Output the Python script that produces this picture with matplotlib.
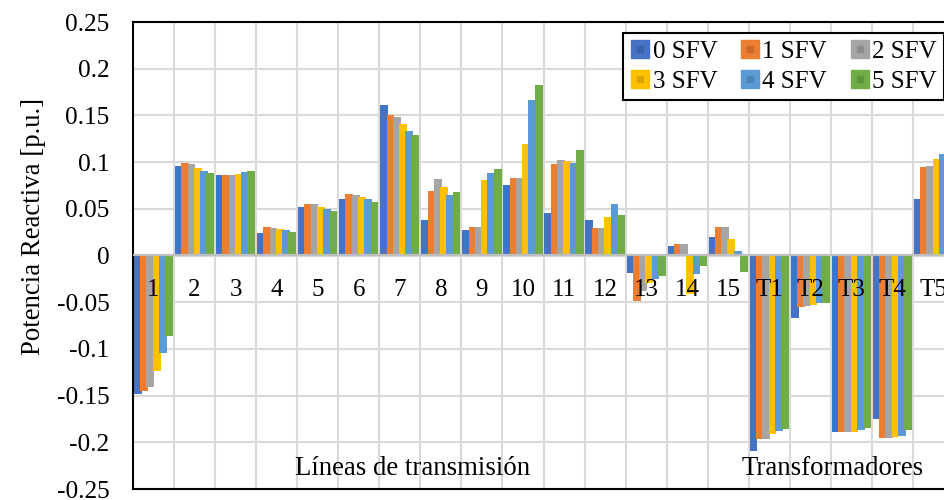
import numpy as np
import matplotlib
matplotlib.use("Agg")
import matplotlib.pyplot as plt
from matplotlib.lines import Line2D
from matplotlib.legend_handler import HandlerTuple

plt.rcParams['font.family'] = ['Liberation Serif', 'DejaVu Serif']

# datos
categorias = ['1', '2', '3', '4', '5', '6', '7', '8', '9', '10', '11', '12', '13', '14', '15',
              'T1', 'T2', 'T3', 'T4', 'T5']
series = ['0 SFV', '1 SFV', '2 SFV', '3 SFV', '4 SFV', '5 SFV']

sfv0 = [-0.148, 0.096, 0.086, 0.024, 0.052, 0.060, 0.161, 0.038, 0.027, 0.075, 0.045, 0.038, -0.019, 0.010, 0.020,
        -0.209, -0.067, -0.189, -0.175, 0.061]
sfv1 = [-0.145, 0.099, 0.086, 0.030, 0.055, 0.066, 0.150, 0.069, 0.030, 0.083, 0.098, 0.029, -0.049, 0.012, 0.030,
        -0.196, -0.055, -0.189, -0.195, 0.095]
sfv2 = [-0.141, 0.098, 0.086, 0.029, 0.055, 0.065, 0.148, 0.082, 0.030, 0.083, 0.102, 0.029, -0.038, 0.012, 0.030,
        -0.196, -0.054, -0.189, -0.195, 0.096]
sfv3 = [-0.124, 0.094, 0.087, 0.028, 0.052, 0.063, 0.141, 0.073, 0.081, 0.119, 0.101, 0.041, -0.029, -0.041, 0.018,
        -0.191, -0.053, -0.189, -0.194, 0.103]
sfv4 = [-0.104, 0.091, 0.089, 0.027, 0.050, 0.061, 0.133, 0.065, 0.088, 0.166, 0.099, 0.055, -0.025, -0.020, 0.005,
        -0.188, -0.051, -0.187, -0.193, 0.109]
sfv5 = [-0.086, 0.088, 0.091, 0.025, 0.048, 0.057, 0.129, 0.068, 0.093, 0.183, 0.113, 0.043, -0.022, -0.011, -0.018,
        -0.186, -0.051, -0.185, -0.187, 0.108]

datos = [sfv0, sfv1, sfv2, sfv3, sfv4, sfv5]
colores = ['#4472C4', '#ED7D31', '#A5A5A5', '#FFC000', '#5B9BD5', '#70AD47']
oscuros = ['#3A62A8', '#C9692A', '#8C8C8C', '#D9A300', '#4E84B5', '#5F933C']

fig = plt.figure(figsize=(9.45, 5.0), dpi=100)
ax = fig.add_axes([133/945, 11/500, 821/945, 467/500])

x = np.arange(len(categorias))
paso = 0.153
ancho = 0.19
for i, d in enumerate(datos):
    ax.bar(x + (i - 2.5) * paso, d, width=ancho, color=colores[i], zorder=2, linewidth=0)

ax.axhline(0, color='#BFBFBF', lw=1.6, zorder=3)

for xi, c in zip(x, categorias):
    ax.text(xi, -0.0435, c, ha='center', va='baseline', fontsize=18, zorder=5)
ax.text(6.31, -0.2345, 'Líneas de transmisión', ha='center', va='baseline', fontsize=19.3, zorder=5)
ax.text(16.55, -0.2345, 'Transformadores', ha='center', va='baseline', fontsize=19.3, zorder=5)

ax.set_xlim(-0.5, 19.5)
ax.set_ylim(-0.25, 0.25)
ax.set_yticks(np.arange(-0.25, 0.26, 0.05))
ax.set_yticklabels(['-0.25', '-0.2', '-0.15', '-0.1', '-0.05', '0', '0.05', '0.1', '0.15', '0.2', '0.25'])
ax.set_xticks([])
ax.set_xticks(x[:-1] + 0.5, minor=True)
ax.tick_params(axis='y', length=0, pad=17, labelsize=18.3)
ax.tick_params(axis='x', which='both', length=0, labelbottom=False)
ax.grid(axis='y', which='major', color='#D9D9D9', lw=1.5, zorder=0)
ax.grid(axis='x', which='minor', color='#D9D9D9', lw=1.5, zorder=0)
ax.set_axisbelow(True)
for s in ax.spines.values():
    s.set_color('black')
    s.set_linewidth(1.5)

fig.text(0.035, 0.548, 'Potencia Reactiva [p.u.]', rotation=90, ha='center', va='center', fontsize=19.3)

# orden por filas con ncol=3
orden = [0, 3, 1, 4, 2, 5]
handles = [(Line2D([], [], ls='', marker='s', ms=13, color=colores[k], mec=colores[k]),
            Line2D([], [], ls='', marker='s', ms=5, color=oscuros[k], mec=oscuros[k])) for k in orden]
etiquetas = [series[k] for k in orden]
leg = ax.legend(handles, etiquetas, ncol=3, loc='upper right', bbox_to_anchor=(0.988, 0.9765),
                borderaxespad=0, fontsize=18, frameon=True, fancybox=False, framealpha=1,
                edgecolor='black', handlelength=0.8, handletextpad=0.1, columnspacing=0.9,
                labelspacing=0.3, borderpad=0.3,
                handler_map={tuple: HandlerTuple(ndivide=1)})
leg.get_frame().set_linewidth(1.5)
leg.set_zorder(6)

plt.savefig('out.png', dpi=100)
